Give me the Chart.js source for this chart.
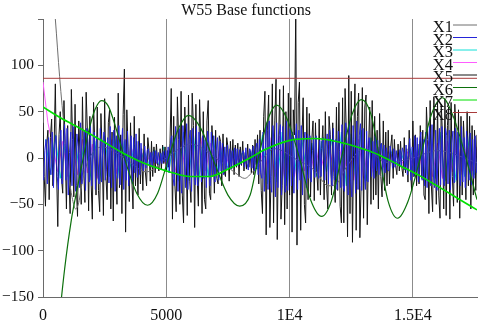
<!DOCTYPE html>
<html>
<head>
<meta charset="utf-8">
<script src="https://cdn.jsdelivr.net/npm/chart.js@4.4.1/dist/chart.umd.min.js"></script>
<style>
  body { margin: 0; background: #fff; }
  #wrap { width: 481px; height: 326px; position: relative; }
</style>
</head>
<body>
<div id="wrap"><canvas id="baseChart"></canvas></div>
<script>
const titleText = "W55 Base functions";
const seriesNames = ["X1", "X2", "X3", "X4", "X5", "X6", "X7", "X8"];
const seriesColors = ["#6e6e6e", "#2424d8", "#10e0d8", "#ff5cff", "#141414", "#0c700c", "#00e000", "#a83a3a"];
// drawing order: lower number is drawn on top
const seriesOrder = [5, 4, 7, 8, 6, 3, 2, 1];
const xTicks = [0, 5000, 10000, 15000];
const xTickLabels = ["0", "5000", "1E4", "1.5E4"];
const yTicks = [-150, -100, -50, 0, 50, 100, 150];

// noisy series, one value per step
const fineStep = 50;
const wideStep = 200;

const x2Noise = [
  -24, 8, 20, -28, 22, -10, -18, 28, -32, 14, 24, -20, -34, 16,
  30, -28, 10, 36, -24, 32, -40, 6, 28, -30, 34, -16, -36, 26, 12, -32, 38, -28, -8, 30, -35, 32, 18, -26, 36, -30, 4, 28, -34, 24, -20, -28,
  32, -26, 14, 28, -24, -12, 22, -27, 34, -32, 16, 30, -36, 24, -22, 35, -29, 10, 32, -34, 20, -24, 29, -30, 8, 24, -28, 22, -16, 26, -21, 18,
  -18, 16, -6, -14, 13, -11, 8, 10, -8, 6, -10, 7, -5, 8, -6, 6, -7, 5,
  -6, 7, -4, 8, -10, 12, -16, 20,
  24, -22,
  -30, 34, 12, -36, 32, -16, -38, 35, 8, -32, 37, -34, 20, 30, -36, 32, -12, -29, 34, -30, 28, 10, -26, 24, -22, 20,
  -32, 29, 16, -30, 28, -20, 24, -26, 8, 22, -24, 18, -14, 16, -18, 12, -13, 14, -11, 10, -12, 8, -10, 11, -8, 10,
  -8, 9, -7, 5, 8, -10, 11, -6, -13, 10, 8, -11, 13, -14, 10, 16, -18, 20, -16, -22,
  28, -36, 16, 38, -34, 40, -24, -37, 35, 12, -42, 38, -32, 24, 36, -40, 34, -16, -37, 40, -35, 20, 32, -30, 28, -38, 18, 37, -34, 30, -24, 35, -40, 16, 28, -32, 26, -22,
  24, -26, 8, 22, -21, 24, -12, -22, 19, -20, 16, 22, -24, 12, 26, -28, 30, -16, -30, 32, -24, 20, -34, 29, 8, -32, 36, -30,
  -36, 38, 16, -40, 37, -24, -42, 35, 12, -38, 40, -34, 24, 37, -35, 32, -16, -34, 29, -26, 22, 8, -20, 18, -22, 24, -14, 19, -18, 12, 16, -20, 14, -16, 11, -13,
  -14, 13, 5, -11, 10, -10, 8, -4, -8, 9, -10, 11, 6, -13, 14, -18, 8, 21, -24, 12, -20, 24, -16, 22, -26, 16, 28, -24, 20, -30,
  28, -32, 12, 34, -30, 36, -16, -32, 30, -35, 8, 32, -29, 34, -20, -30, 32, 24, -28, 30, -34, 16, 29, -27, 32, -24, 28, -12, -30, 34, -26, 22, -32, 29, 10, -24, 27, -29, 20, -22, 24, -16
];

const x3Noise = [
  20, -18, 25, -22, 15, -26, 22, -20, 28, -24, 18, -25, 24, -20, 26, -22, 18, -15, 14,
  -10, 8, -7, 9, -8, 12, -16,
  22, -25, 28, -24, 26, -28, 22, -20, 24, -18, 15, -12, 10,
  -8, 7, -9, 8, -12,
  25, -28, 30, -26, 28, -30, 25, -22, 20,
  -18, 16, -20, 18, -15, 20, -22,
  28, -30, 26, -28, 30, -25, 22, -20, 15,
  -10, 8, -7, 8, -9, 10, -14, 18,
  -24, 26, -22, 28, -25, 24, -26, 22, -20, 25, -18
];

const x4Noise = [
  82, 38, 12,
  -15, 18, -20, 14, -18, 20, -16, 15, -22, 18, -14, 20, -17, 16, -12, 10, -8,
  6, -5, 7, -6, 5, -8, 10,
  -16, 18, -20, 15, -18, 22, -14, 16, -12, 14, -10, 8, -6,
  5, -6, 5, -7, 10,
  -18, 22, -20, 24, -22, 18, -20, 16, -14,
  12, -14, 10, -12, 14, -15, 18,
  -20, 22, -24, 20, -22, 18, -16, 12, -10,
  7, -6, 5, -6, 7, -8, 10, -14,
  18, -20, 16, -22, 18, -15, 20, -18, 16, -14, 12
];

const x5Noise = [
  38, -20, -52, 15, 30, -45, 22, 42, -30, 12, 80, -15, -74, 25,
  50, -22, -38, 62, 10, -55, 35, -18, -60, 74, 20, -42, 58, -30, -63, 40, 5, -50, 66, -12, -48, 71, 30, -57, 45, -25, -66, 60, 15, -40, 55, -35,
  -58, 48, 8, -62, 64, -20, -45, 38, 52, -55, 28, -68, 44, -10, -50, 70, -32, 25, -60, 47, 96, -80, 52, 12, -47, 38, -22, -55, 45, -30, 18, -40,
  32, -28, 10, -35, 26, -15, -30, 22, 8, -25, 18, -20, 12, -16, 15, -8, -14, 10,
  -12, 14, -6, 12, -15, 8, -10, 16,
  75, -66,
  45, -30, -58, 66, 20, -50, 72, -40, -70, 55, 12, -62, 68, -25, -48, 70, 35, -75, 58, -20, -52, 63, 15, -60, 50, -45,
  -55, 40, 62, -38, -45, 35, 10, -38, 30, -22, -28, 24, 18, -30, 26, -15, -20, 22, 12, -25, 18, -12, 20, -18, 14, -10,
  16, -20, 12, -8, 18, -14, 6, -12, 15, -10, 8, -16, 14, -18, 20, -12, 25, -28, 30, -35,
  -60, 45, 72, -83, 30, 68, -75, -20, 80, -70, 40, 85, -88, 15, 74, -66, -30, 78, -72, 50, -55, 70, -40, 65, -80, 52, 25, 160, -94, 60, 82, -78, 20, 65, -50, -70, 55, -45,
  48, -42, 20, 40, -46, 38, -15, -35, 42, -40, 10, 35, -45, 50, -30, -55, 45, 25, -40, 38, -20, -48, 55, -35, 60, -52, -70, 65,
  -70, 75, 30, -85, 89, -60, 72, -91, 20, 80, -78, 45, 70, -86, -30, 76, -65, 55, 68, -72, 10, 55, -50, 62, -45, 45, -40, 30, -55, 48, -20, -42, 40, -35, 28, -30,
  30, -28, 12, 25, -22, 20, -8, -18, 15, -14, 18, -10, -20, 22, -16, 10, -26, 30, -12, -35, 40, -20, 25, -30, 15, -28, 35, -22, 30, -40,
  -45, 55, 20, -60, 62, -30, -58, 66, 15, -50, 60, -40, -65, 58, 25, -55, 64, -62, 35, 55, -66, 60, -20, -52, 58, 30, -48, 52, -65, 45, -40, 40, 10, -45, 50, -30, 45, -55, 35, -40, 30, -35, 25
];

// smooth series, given as x / y pairs
const x1X = [0, 250, 500, 673, 876, 1050, 1200, 1320, 1450, 1600, 1800, 2400, 3300, 4200, 5000, 6000, 7000, 7800, 8180, 8500, 9400, 10300, 11000, 11570, 11900, 12300, 13000, 14000, 15000, 16000, 17600];
const x1Y = [320, 230, 150, 88, 27, -20, -45, -55, -48, -25, -5, 12, 0, -15, 0, 15, 0, -16, -22, -15, 10, -2, -13, -30, -28, -10, 10, -5, 0, 8, -5];

const x6X = [0, 340, 673, 876, 1148, 1350, 1565, 1837, 2105, 2376, 2648, 2985, 3300, 3800, 4240, 4650, 5070, 5500, 5900, 6400, 6950, 7500, 7980, 8400, 8730, 9100, 9480, 9900, 10400, 10850, 11300, 11700, 12100, 12520, 12920, 13300, 13650, 14000, 14380, 14800, 15300, 15750, 16200, 16620, 17030, 17600];
const x6Y = [-380, -270, -171, -120, -67, -38, -9, 27, 52, 62, 56, 30, 0, -38, -51, -38, -2, 32, 46, 32, -5, -40, -52, -40, 0, 40, 57, 42, 0, -45, -63, -46, 0, 46, 63, 47, 0, -47, -65, -47, 0, 47, 65, 46, 12, -45];

const x7X = [0, 673, 1565, 2300, 3200, 4130, 5140, 5950, 6760, 7570, 8390, 8920, 10010, 11030, 12030, 12840, 13650, 14460, 15270, 16100, 16910, 17600];
const x7Y = [55, 44, 31, 20, 6, -6, -15, -20, -20, -11, 0, 8, 19, 21, 17, 11, 3, -8, -19, -32, -45, -56];

const x8X = [0, 17600];
const x8Y = [86, 86];

const serifFont = '"Liberation Serif", "Times New Roman", serif';

function stepPoints(values, step, start) {
  return values.map((v, i) => ({ x: start + i * step, y: v }));
}

function pairPoints(xs, ys) {
  return xs.map((x, i) => ({ x: x, y: ys[i] }));
}

function makeSet(idx, points, extra) {
  return Object.assign({
    label: seriesNames[idx],
    data: points,
    borderColor: seriesColors[idx],
    backgroundColor: seriesColors[idx],
    borderWidth: 1,
    pointRadius: 0,
    fill: false,
    tension: 0,
    order: seriesOrder[idx]
  }, extra || {});
}

const datasets = [
  makeSet(0, pairPoints(x1X, x1Y), { cubicInterpolationMode: 'monotone' }),
  makeSet(1, stepPoints(x2Noise, fineStep, 25)),
  makeSet(2, stepPoints(x3Noise, wideStep, 100)),
  makeSet(3, stepPoints(x4Noise, wideStep, 0)),
  makeSet(4, stepPoints(x5Noise, fineStep, 0)),
  makeSet(5, pairPoints(x6X, x6Y), { cubicInterpolationMode: 'monotone', borderWidth: 1.2 }),
  makeSet(6, pairPoints(x7X, x7Y), { cubicInterpolationMode: 'monotone', borderWidth: 1.6 }),
  makeSet(7, pairPoints(x8X, x8Y))
];

// title + legend with the line sample on the right of each name
const overlayPlugin = {
  id: 'overlay',
  afterDraw(chart) {
    const ctx = chart.ctx;
    ctx.save();
    ctx.fillStyle = '#111';
    ctx.font = '16px ' + serifFont;
    ctx.textAlign = 'center';
    ctx.textBaseline = 'alphabetic';
    ctx.fillText(titleText, 246, 15);

    ctx.font = '16.5px ' + serifFont;
    ctx.textAlign = 'right';
    seriesNames.forEach((name, i) => {
      const y = 25 + i * 12.5;
      ctx.fillStyle = '#111';
      ctx.fillText(name, 453, y + 7);
      ctx.strokeStyle = seriesColors[i];
      ctx.lineWidth = 1;
      ctx.beginPath();
      ctx.moveTo(453, y);
      ctx.lineTo(477, y);
      ctx.stroke();
    });
    ctx.restore();
  }
};

new Chart(document.getElementById('baseChart'), {
  type: 'line',
  data: { datasets: datasets },
  options: {
    responsive: true,
    maintainAspectRatio: false,
    animation: false,
    parsing: false,
    layout: { padding: { top: 19, right: 4, left: 0, bottom: 0 } },
    plugins: {
      legend: { display: false },
      title: { display: false },
      tooltip: { enabled: false }
    },
    scales: {
      x: {
        type: 'linear',
        min: 0,
        max: 17600,
        afterBuildTicks: s => { s.ticks = xTicks.map(v => ({ value: v })); },
        afterFit: s => { s.height = 29; },
        ticks: {
          font: { family: serifFont, size: 16 },
          color: '#111',
          padding: 9,
          maxRotation: 0,
          autoSkip: false,
          callback: (v, i) => xTickLabels[i]
        },
        grid: {
          color: ctx => (ctx.tick && ctx.tick.value === 0) ? 'rgba(0,0,0,0)' : '#8c8c8c',
          drawTicks: false
        },
        border: { display: true, color: '#6a6a6a' }
      },
      y: {
        min: -150,
        max: 150,
        afterBuildTicks: s => { s.ticks = yTicks.map(v => ({ value: v })); },
        afterFit: s => { s.width = 43; },
        ticks: {
          font: { family: serifFont, size: 15.5 },
          color: '#111',
          padding: 4,
          callback: v => v === 150 ? '' : String(v).replace('-', '\u2212')
        },
        grid: { drawOnChartArea: false, tickLength: 5, color: '#6a6a6a' },
        border: { display: true, color: '#6a6a6a' }
      }
    }
  },
  plugins: [overlayPlugin]
});
</script>
</body>
</html>
